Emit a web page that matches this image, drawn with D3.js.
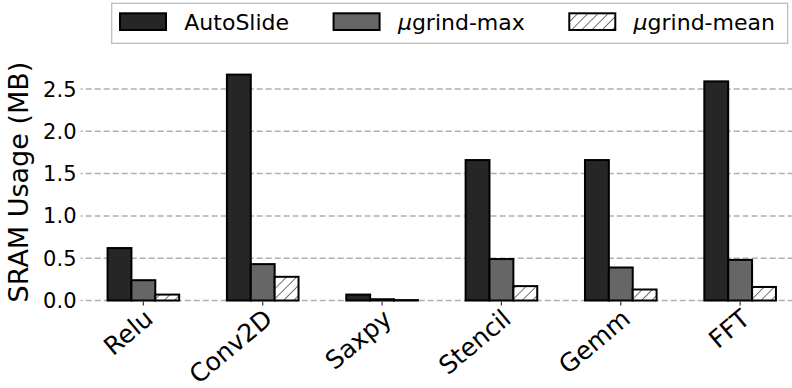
<!DOCTYPE html>
<html lang="en">
<head>
<meta charset="UTF-8">
<title>SRAM Usage</title>
<style>
  body { margin: 0; background: #fff; }
  svg { display: block; font-family: "DejaVu Sans", sans-serif; }
</style>
</head>
<body>
<script src="https://d3js.org/d3.v7.min.js"></script>
<script>
// data (MB)
const benchmarks = ["Relu", "Conv2D", "Saxpy", "Stencil", "Gemm", "FFT"];
const seriesNames = ["AutoSlide", "grind-max", "grind-mean"];
const autoSlide = [0.62, 2.67, 0.07, 1.66, 1.66, 2.59];
const ugrindMax = [0.24, 0.43, 0.015, 0.49, 0.39, 0.48];
const ugrindMean = [0.07, 0.28, 0.005, 0.17, 0.13, 0.16];
const yTicks = [0, 0.5, 1.0, 1.5, 2.0, 2.5];

const width = 792, height = 388;
const plotLeft = 80.7, plotRight = 802.8, plotBottom = 300.5, plotTop = 63.6;

const series = [
    { name: seriesNames[0], values: autoSlide, fill: "#262626", mu: false },
    { name: seriesNames[1], values: ugrindMax, fill: "#666666", mu: true },
    { name: seriesNames[2], values: ugrindMean, fill: "url(#hatch)", mu: true }
];

const svg = d3.select("body").append("svg")
    .attr("width", width)
    .attr("height", height);

// hatch pattern for the mean bars
const hs = 7.2;
const pat = svg.append("defs").append("pattern")
    .attr("id", "hatch")
    .attr("patternUnits", "userSpaceOnUse")
    .attr("width", hs).attr("height", hs)
    .attr("patternTransform", "rotate(45)");
pat.append("rect").attr("width", hs).attr("height", hs).attr("fill", "#fff");
pat.append("line")
    .attr("x1", 0).attr("y1", 0).attr("x2", 0).attr("y2", hs)
    .attr("stroke", "#000").attr("stroke-width", 1.1);

// scales
const x = d3.scaleBand()
    .domain(benchmarks)
    .range([plotLeft, plotRight])
    .paddingInner(0.4)
    .paddingOuter(0.225);

const xSub = d3.scaleBand()
    .domain(seriesNames)
    .range([0, x.bandwidth()]);

const y = d3.scaleLinear()
    .domain([0, 2.80])
    .range([plotBottom, plotTop]);

// grid
svg.append("g")
    .selectAll("line")
    .data(yTicks)
    .join("line")
    .attr("x1", plotLeft).attr("x2", width)
    .attr("y1", d => y(d)).attr("y2", d => y(d))
    .attr("stroke", "#b0b0b0")
    .attr("stroke-width", 1.5)
    .attr("stroke-dasharray", "6,3")
    .attr("stroke-dashoffset", 4);

// y tick labels
svg.append("g")
    .selectAll("text")
    .data(yTicks)
    .join("text")
    .attr("x", 76.5)
    .attr("y", d => y(d))
    .attr("dy", "0.36em")
    .attr("text-anchor", "end")
    .attr("font-size", 21)
    .attr("fill", "#000")
    .text(d => d3.format(".1f")(d));

// y label
svg.append("text")
    .attr("transform", `translate(27.5,${(plotTop + plotBottom) / 2}) rotate(-90)`)
    .attr("text-anchor", "middle")
    .attr("font-size", 27)
    .text("SRAM Usage (MB)");

// bars
const groups = svg.append("g")
    .selectAll("g")
    .data(benchmarks)
    .join("g")
    .attr("transform", d => `translate(${x(d)},0)`);

groups.selectAll("rect")
    .data((d, i) => series.map(s => ({ s, v: s.values[i] })))
    .join("rect")
    .attr("x", d => xSub(d.s.name))
    .attr("y", d => y(d.v))
    .attr("width", xSub.bandwidth())
    .attr("height", d => y(0) - y(d.v))
    .attr("fill", d => d.s.fill)
    .attr("stroke", "#000")
    .attr("stroke-width", 2);

// x ticks and labels
const xt = svg.append("g")
    .selectAll("g")
    .data(benchmarks)
    .join("g")
    .attr("transform", d => `translate(${x(d) + x.bandwidth() / 2},0)`);

xt.append("line")
    .attr("y1", plotBottom + 1).attr("y2", plotBottom + 5)
    .attr("stroke", "#333").attr("stroke-width", 1.2);

xt.append("text")
    .attr("transform", "translate(0,308) rotate(-40)")
    .attr("dy", "0.7em")
    .attr("text-anchor", "end")
    .attr("font-size", 25)
    .text(d => d);

// legend
const legend = svg.append("g");
const box = legend.append("rect")
    .attr("y", 3.3).attr("height", 40)
    .attr("fill", "#fff")
    .attr("stroke", "#bdbdbd")
    .attr("stroke-width", 1.3);

let lx = 120;
series.forEach(s => {
    legend.append("rect")
        .attr("x", lx).attr("y", 13.3)
        .attr("width", 46).attr("height", 16.7)
        .attr("fill", s.fill)
        .attr("stroke", "#000")
        .attr("stroke-width", 2);
    const t = legend.append("text")
        .attr("x", lx + 64.3)
        .attr("y", 29.5)
        .attr("font-size", 22);
    if (s.mu) t.append("tspan").attr("font-style", "italic").text("μ");
    t.append("tspan").text(s.name);
    lx = lx + 64.3 + t.node().getComputedTextLength() + 44.5;
});
box.attr("x", 111.7).attr("width", lx - 44.5 + 12.7 - 111.7);
</script>
</body>
</html>
